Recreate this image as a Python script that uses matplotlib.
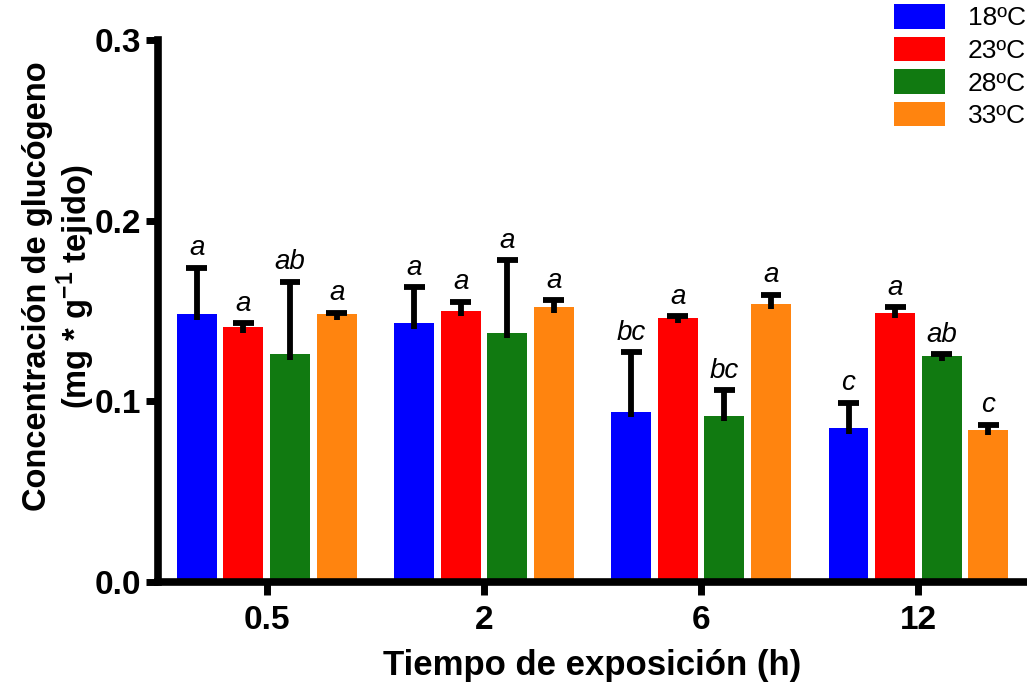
import numpy as np
import matplotlib
matplotlib.use("Agg")
import matplotlib.pyplot as plt
from matplotlib.patches import Patch

plt.rcParams["font.family"] = ["Liberation Sans", "DejaVu Sans"]
plt.rcParams["mathtext.fontset"] = "custom"
plt.rcParams["mathtext.rm"] = "Liberation Sans"
plt.rcParams["mathtext.bf"] = "Liberation Sans:bold"

times = ["0.5", "2", "6", "12"]
temps = ["18ºC", "23ºC", "28ºC", "33ºC"]
colors = ["#0000ff", "#ff0000", "#117a11", "#ff840f"]

# mean per temperature, one value per exposure time
mean_18 = [0.148, 0.143, 0.094, 0.085]
mean_23 = [0.141, 0.150, 0.146, 0.149]
mean_28 = [0.126, 0.138, 0.092, 0.125]
mean_33 = [0.148, 0.152, 0.154, 0.084]

# upper error (SE)
err_18 = [0.026, 0.020, 0.033, 0.014]
err_23 = [0.002, 0.005, 0.001, 0.003]
err_28 = [0.040, 0.040, 0.014, 0.001]
err_33 = [0.001, 0.004, 0.005, 0.003]

letters_18 = ["a", "a", "bc", "c"]
letters_23 = ["a", "a", "a", "a"]
letters_28 = ["ab", "a", "bc", "ab"]
letters_33 = ["a", "a", "a", "c"]

means = [mean_18, mean_23, mean_28, mean_33]
errs = [err_18, err_23, err_28, err_33]
letters = [letters_18, letters_23, letters_28, letters_33]

fig = plt.figure(figsize=(10.27, 6.90), dpi=100)
ax = fig.add_axes([0.154, 0.157, 0.846, 0.785])

x = np.arange(len(times))
pitch = 0.2145
width = 0.184
offsets = [-1.5 * pitch, -0.5 * pitch, 0.5 * pitch, 1.5 * pitch]

for m, e, lab, c, off in zip(means, errs, letters, colors, offsets):
    xs = x + off
    m = np.array(m)
    e = np.array(e)
    ax.bar(xs, m, width=width, color=c, edgecolor="none", zorder=2)
    ax.vlines(xs, m - 0.003, m + e, color="black", linewidth=4.2, zorder=3)
    ax.hlines(m + e, xs - 0.048, xs + 0.048, color="black", linewidth=4.2, zorder=3)
    for xi, top, t in zip(xs, m + e, lab):
        ax.annotate(t, (xi, top), xytext=(0, 9), textcoords="offset points",
                    ha="center", va="baseline", fontsize=20, style="italic")

ax.set_xlim(-0.5, 3.5)
ax.set_ylim(0, 0.3)
ax.set_yticks([0.0, 0.1, 0.2, 0.3])
ax.set_yticklabels(["0.0", "0.1", "0.2", "0.3"])
ax.set_xticks(x)
ax.set_xticklabels(times)

for side in ["top", "right"]:
    ax.spines[side].set_visible(False)
for side in ["left", "bottom"]:
    ax.spines[side].set_linewidth(5.5)
ax.tick_params(axis="both", width=5, length=9, labelsize=24, pad=3)
for lbl in ax.get_xticklabels() + ax.get_yticklabels():
    lbl.set_fontweight("bold")
ax.tick_params(axis="x", pad=8)

ax.set_xlabel("Tiempo de exposición (h)", fontsize=25, fontweight="bold")
ax.xaxis.set_label_coords(0.5, -0.125)
ax.set_ylabel("Concentración de glucógeno\n" + r"(mg * g$^{\mathbf{-1}}$ tejido)",
              fontsize=23.5, fontweight="bold", linespacing=1.05)
ax.yaxis.set_label_coords(-0.114, 0.545)
ax.yaxis.label.set_va("center")

handles = [Patch(facecolor=c, edgecolor="none") for c in colors]
fig.legend(handles, temps, loc="upper right", bbox_to_anchor=(0.999, 0.994),
           frameon=False, fontsize=19, handlelength=1.95, handleheight=1.05,
           labelspacing=0.24, handletextpad=0.85, borderpad=0.0, borderaxespad=0.0)

fig.savefig("out.png", dpi=100)
